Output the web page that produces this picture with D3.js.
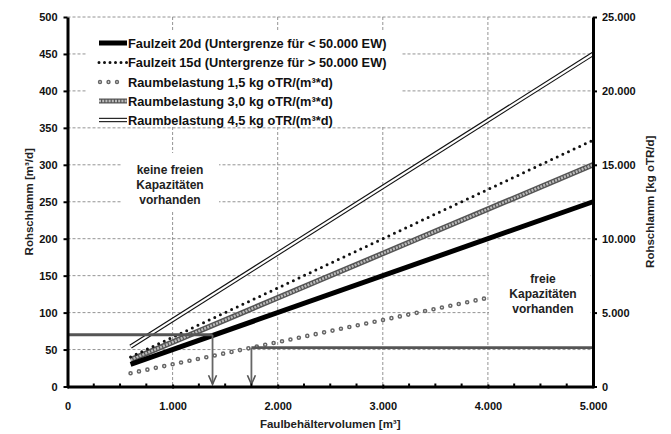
<!DOCTYPE html>
<html><head><meta charset="utf-8">
<script src="https://cdn.jsdelivr.net/npm/d3@7"></script>
<style>
body{margin:0;background:#fff;}
text{font-family:"Liberation Sans",Arial,sans-serif;}
</style></head>
<body><svg id="c" width="671" height="434"></svg>
<script>
// ---- data ----
const volume = [600, 5000];                 // Faulbehältervolumen [m³]
const faulzeit20 = [30, 250];
const faulzeit15 = [40, 333.3];
const raum15 = [18, 150];
const raum30 = [36, 300];
const raum45 = [54, 450];
const limitLevel = [70, 52.5];              // Rohschlamm [m³/d]
const limitFrom = [0, 1750];
const limitTo = [1380, 5000];
const arrowX = [1380, 1750];
const xTicks = [0, 1000, 2000, 3000, 4000, 5000];
const yTicks = [0, 50, 100, 150, 200, 250, 300, 350, 400, 450, 500];
const y2Ticks = [0, 5000, 10000, 15000, 20000, 25000];
const legendLabels = [
  "Faulzeit 20d (Untergrenze für < 50.000 EW)",
  "Faulzeit 15d (Untergrenze für > 50.000 EW)",
  "Raumbelastung 1,5 kg oTR/(m³*d)",
  "Raumbelastung 3,0 kg oTR/(m³*d)",
  "Raumbelastung 4,5 kg oTR/(m³*d)"
];

const svg = d3.select("#c");
const L = 67.5, R = 593, T = 17, B = 386.5;
const x = d3.scaleLinear().domain([0, 5000]).range([L, R]);
const y = d3.scaleLinear().domain([0, 500]).range([B, T]);
const y2 = d3.scaleLinear().domain([0, 25000]).range([B, T]);
const de = d3.formatLocale({decimal: ",", thousands: ".", grouping: [3], currency: ["", "€"]});
const fmt = de.format(",.0f");

// grid
const grid = svg.append("g").attr("stroke", "#888").attr("stroke-width", 0.9).attr("stroke-dasharray", "3,2");
yTicks.filter(d => d > 0).forEach(d => grid.append("line").attr("x1", L).attr("x2", R).attr("y1", y(d)).attr("y2", y(d)));
xTicks.filter(d => d > 0 && d < 5000).forEach(d => grid.append("line").attr("x1", x(d)).attr("x2", x(d)).attr("y1", T).attr("y2", B));

// series
const pts = vals => volume.map((v, i) => [x(v), y(vals[i])]);
const line = d3.line();
const g = svg.append("g").attr("fill", "none");
// 1.5 circles
g.append("path").attr("d", line(pts(raum15))).attr("stroke", "#666").attr("stroke-width", 4.6)
  .attr("stroke-linecap", "round").attr("stroke-dasharray", "0,8.6");
g.append("path").attr("d", line(pts(raum15))).attr("stroke", "#fff").attr("stroke-width", 1.6)
  .attr("stroke-linecap", "round").attr("stroke-dasharray", "0,8.6");
// 3.0 hatched
g.append("path").attr("d", line(pts(raum30))).attr("stroke", "#555").attr("stroke-width", 5.5);
g.append("path").attr("d", line(pts(raum30))).attr("stroke", "#bbb").attr("stroke-width", 2.6).attr("stroke-dasharray", "2,1.2");
// 4.5 double line
g.append("path").attr("d", line(pts(raum45))).attr("stroke", "#111").attr("stroke-width", 4.4);
g.append("path").attr("d", line(pts(raum45))).attr("stroke", "#fff").attr("stroke-width", 2.2);
// 15d dotted
g.append("path").attr("d", line(pts(faulzeit15))).attr("stroke", "#111").attr("stroke-width", 3)
  .attr("stroke-linecap", "round").attr("stroke-dasharray", "0,6.2");
// 20d solid
g.append("path").attr("d", line(pts(faulzeit20))).attr("stroke", "#000").attr("stroke-width", 5);

// limit lines and arrows
limitLevel.forEach((lv, i) => {
  svg.append("line").attr("x1", x(limitFrom[i])).attr("x2", x(limitTo[i])).attr("y1", y(lv)).attr("y2", y(lv))
    .attr("stroke", "#555").attr("stroke-width", 2.8);
  const ax = x(arrowX[i]), tip = y(3);
  svg.append("line").attr("x1", ax).attr("x2", ax).attr("y1", y(lv)).attr("y2", tip)
    .attr("stroke", "#666").attr("stroke-width", 1.8);
  svg.append("path").attr("d", `M${ax - 4},${tip - 9}L${ax},${tip}L${ax + 4},${tip - 9}`)
    .attr("fill", "none").attr("stroke", "#555").attr("stroke-width", 1.6);
});

// white boxes
svg.append("rect").attr("x", 86).attr("y", 31).attr("width", 315).attr("height", 95).attr("fill", "#fff");
svg.append("rect").attr("x", 122).attr("y", 153).attr("width", 97).attr("height", 58).attr("fill", "#fff");
svg.append("rect").attr("x", 489).attr("y", 262).attr("width", 101).attr("height", 58).attr("fill", "#fff");

// annotations
const ann = (cx, ys, lines) => lines.forEach((t, i) => svg.append("text").attr("x", cx).attr("y", ys[i])
  .attr("text-anchor", "middle").attr("font-size", 12).attr("font-weight", "bold").attr("fill", "#222").text(t));
ann(170, [174, 189, 204], ["keine freien", "Kapazitäten", "vorhanden"]);
ann(543, [283, 298, 313], ["freie", "Kapazitäten", "vorhanden"]);

// legend
const lg = svg.append("g");
const rowY = [43, 62.5, 82, 101, 120];
rowY.forEach((ry, i) => {
  const x1 = 99, x2 = 127;
  const ll = lg.append("g").attr("fill", "none");
  const d = `M${x1},${ry}L${x2},${ry}`;
  if (i === 0) ll.append("path").attr("d", d).attr("stroke", "#000").attr("stroke-width", 5);
  if (i === 1) ll.append("path").attr("d", d).attr("stroke", "#111").attr("stroke-width", 3).attr("stroke-linecap", "round").attr("stroke-dasharray", "0,5.5");
  if (i === 2) {
    ll.append("path").attr("d", `M${x1+1},${ry}L${x2-5},${ry}`).attr("stroke", "#666").attr("stroke-width", 4.4).attr("stroke-linecap", "round").attr("stroke-dasharray", "0,8.5");
    ll.append("path").attr("d", `M${x1+1},${ry}L${x2-5},${ry}`).attr("stroke", "#fff").attr("stroke-width", 1.5).attr("stroke-linecap", "round").attr("stroke-dasharray", "0,8.5");
  }
  if (i === 3) {
    ll.append("path").attr("d", d).attr("stroke", "#555").attr("stroke-width", 5);
    ll.append("path").attr("d", d).attr("stroke", "#bbb").attr("stroke-width", 2.4).attr("stroke-dasharray", "2,1.2");
  }
  if (i === 4) {
    ll.append("path").attr("d", d).attr("stroke", "#111").attr("stroke-width", 4.4);
    ll.append("path").attr("d", d).attr("stroke", "#fff").attr("stroke-width", 2.2);
  }
  lg.append("text").attr("x", 128).attr("y", ry + 4.5).attr("font-size", 12.8).attr("font-weight", "bold").attr("fill", "#111").text(legendLabels[i]);
});

// axes
const axStyle = sel => {
  sel.selectAll(".domain").attr("stroke", "#000").attr("stroke-width", 3);
  sel.selectAll(".tick line").attr("stroke", "#000").attr("stroke-width", 2);
  sel.selectAll(".tick text").attr("font-size", 11).attr("font-weight", "bold").attr("fill", "#111")
    .attr("font-family", "'Liberation Sans',Arial,sans-serif");
};
const gx = svg.append("g").attr("transform", `translate(0,${B})`)
  .call(d3.axisBottom(x).tickValues(xTicks).tickFormat(d => fmt(d)).tickSize(4).tickSizeOuter(0).tickPadding(12));
axStyle(gx);
gx.selectAll(".tick line").attr("y1", -2).attr("y2", 2);
// x minor ticks
svg.append("g").selectAll("line").data(d3.range(250, 5000, 250).filter(v => v % 1000)).join("line")
  .attr("x1", d => x(d)).attr("x2", d => x(d)).attr("y1", B - 3).attr("y2", B + 1).attr("stroke", "#000").attr("stroke-width", 2);
const gy = svg.append("g").attr("transform", `translate(${L},0)`)
  .call(d3.axisLeft(y).tickValues(yTicks).tickSize(4).tickSizeOuter(0).tickPadding(6));
axStyle(gy);
const gy2 = svg.append("g").attr("transform", `translate(${R},0)`)
  .call(d3.axisRight(y2).tickValues(y2Ticks).tickFormat(d => fmt(d)).tickSize(4).tickSizeOuter(0).tickPadding(5));
axStyle(gy2);

// titles
svg.append("text").attr("x", (L + R) / 2).attr("y", 428).attr("text-anchor", "middle").attr("font-size", 11.5)
  .attr("font-weight", "bold").attr("fill", "#222").text("Faulbehältervolumen [m³]");
svg.append("text").attr("transform", `translate(33,${(T + B) / 2}) rotate(-90)`).attr("text-anchor", "middle")
  .attr("font-size", 11.5).attr("font-weight", "bold").attr("fill", "#222").text("Rohschlamm [m³/d]");
svg.append("text").attr("transform", `translate(654,${(T + B) / 2}) rotate(-90)`).attr("text-anchor", "middle")
  .attr("font-size", 11.5).attr("font-weight", "bold").attr("fill", "#222").text("Rohschlamm [kg oTR/d]");
</script></body></html>
